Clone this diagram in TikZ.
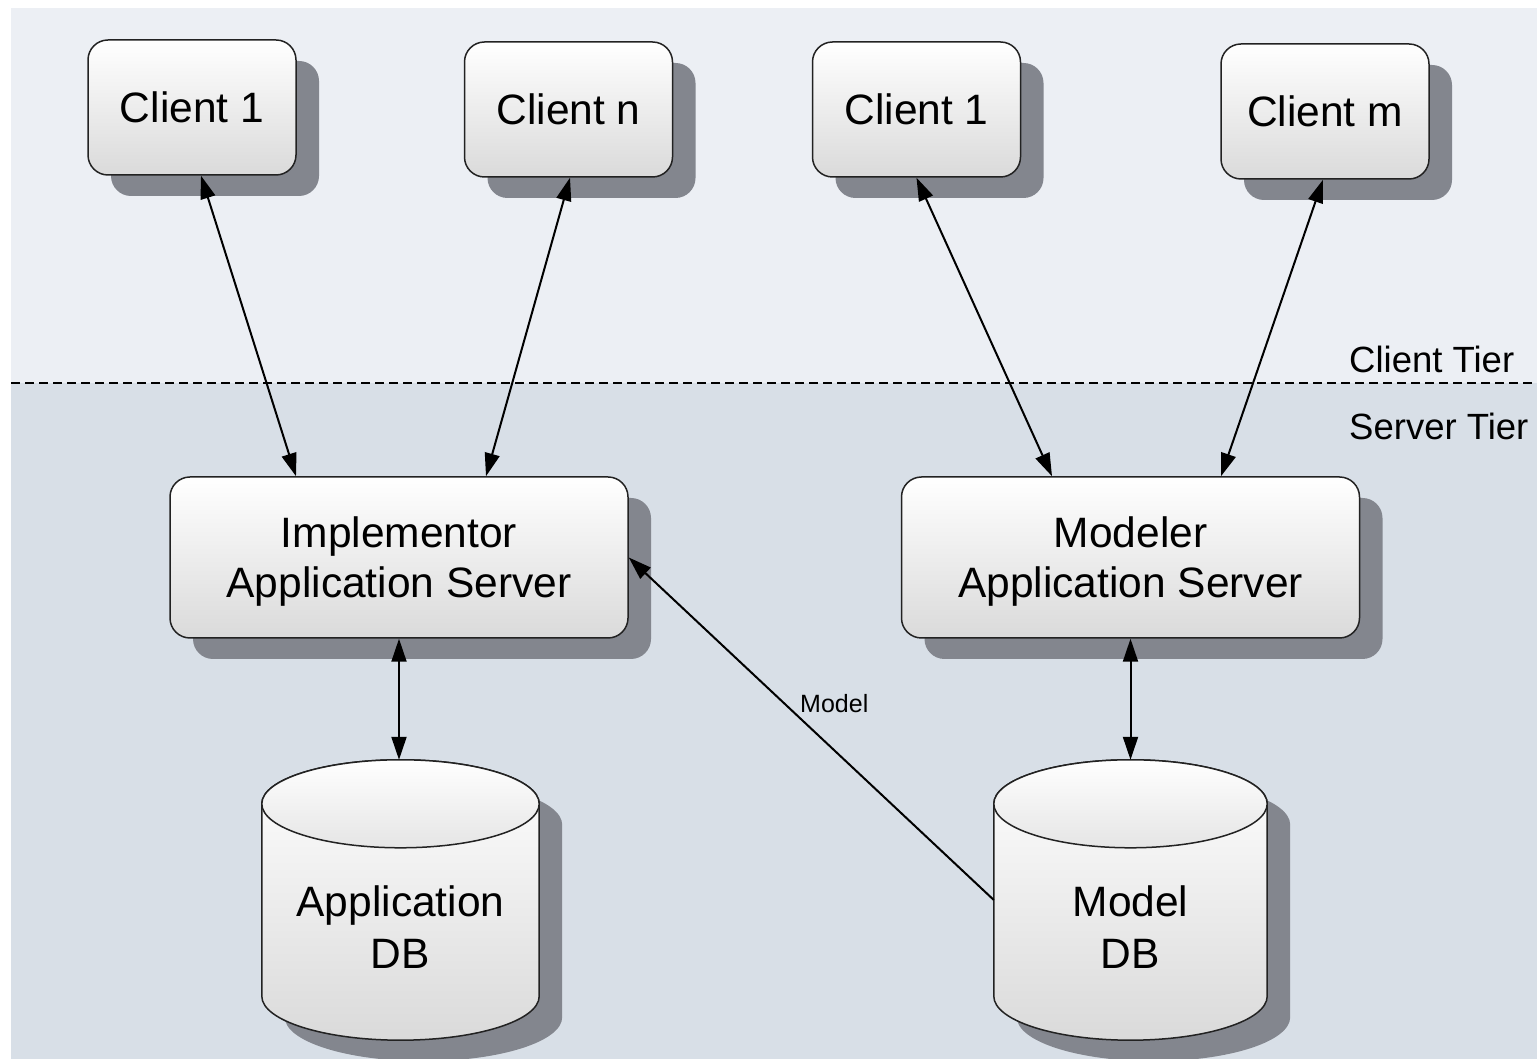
\documentclass[tikz,border=0pt]{standalone}
\usepackage{fontspec}
\setmainfont{Liberation Sans}
\usetikzlibrary{arrows.meta,calc,shadows}
\definecolor{clienttier}{RGB}{236,239,244}
\definecolor{servertier}{RGB}{216,223,231}
\definecolor{shadowgrey}{RGB}{131,134,142}
\definecolor{boxgrey}{RGB}{218,218,218}
\definecolor{boxline}{RGB}{34,34,34}

\tikzset{
  box/.style={draw=boxline, line width=1.5pt, rounded corners=20pt,
    top color=white, bottom color=boxgrey,
    drop shadow={shadow xshift=23pt, shadow yshift=-21pt, fill=shadowgrey, opacity=1},
    font=\fontsize{42.5}{50}\selectfont, align=center, inner sep=0pt},
  client/.style={box, minimum width=208pt, minimum height=135pt},
  server/.style={box, minimum width=458pt, minimum height=161pt, text depth=0pt},
  dbbox/.style={inner sep=0pt, minimum width=277pt, minimum height=280pt},
  dbtext/.style={font=\fontsize{42.5}{52}\selectfont, align=center, inner sep=0pt},
  tierlabel/.style={font=\fontsize{36.5}{42}\selectfont, inner sep=0pt, anchor=base west},
  link/.style={line width=2pt, {Triangle[length=23pt,width=15pt]}-{Triangle[length=23pt,width=15pt]}},
  onelink/.style={line width=2pt, -{Triangle[length=23pt,width=15pt]}},
}

% database drum drawn round an empty node
\newcommand{\dbcyl}[1]{%
  \fill[shadowgrey] let \p1=(#1.north west), \p2=(#1.south east) in
    ({\x1+23pt},{\y1-65pt}) -- ({\x1+23pt},{\y2+23pt})
    arc[start angle=180, end angle=360, x radius={(\x2-\x1)/2}, y radius=44pt]
    -- ({\x2+23pt},{\y1-65pt})
    arc[start angle=0, end angle=180, x radius={(\x2-\x1)/2}, y radius=44pt] -- cycle;
  \path[draw=boxline, line width=1.5pt, top color=white, bottom color=boxgrey]
    let \p1=(#1.north west), \p2=(#1.south east) in
    ({\x1},{\y1-44pt}) -- ({\x1},{\y2+44pt})
    arc[start angle=180, end angle=360, x radius={(\x2-\x1)/2}, y radius=44pt]
    -- ({\x2},{\y1-44pt})
    arc[start angle=0, end angle=180, x radius={(\x2-\x1)/2}, y radius=44pt] -- cycle;
  \path[draw=boxline, line width=1.5pt, top color=white, bottom color=boxgrey!70]
    let \p1=(#1.north west), \p2=(#1.south east) in
    ({(\x1+\x2)/2},{\y1-44pt}) ellipse[x radius={(\x2-\x1)/2}, y radius=44pt];
}

\begin{document}
\begin{tikzpicture}[x=1pt,y=1pt]
  \useasboundingbox (0,0) rectangle (1537,1059);
  % tiers
  \fill[clienttier] (11,676) rectangle (1537,1051);
  \fill[servertier] (11,0) rectangle (1537,676);
  \draw[line width=1.5pt, dash pattern=on 9pt off 5pt] (11,676) -- (1537,676);
  \node[tierlabel] (ctier) at (1349,686) {Client Tier};
  \node[tierlabel] (stier) at (1349,619) {Server Tier};

  % clients
  \node[client] (ca1) at (192,951.5) {Client 1};
  \node[client] (can) at (568.5,949.5) {Client n};
  \node[client] (cb1) at (916.5,949.5) {Client 1};
  \node[client] (cbm) at (1325,947.5) {Client m};

  % servers
  \node[server] (impl) at (399,501.5) {Implementor\\Application Server};
  \node[server] (modl) at (1130.5,501.5) {Modeler\\Application Server};

  % databases
  \node[dbbox] (adb) at (400.5,159) {};
  \node[dbbox, minimum width=273pt] (mdb) at (1130.5,159) {};
  \dbcyl{adb}
  \dbcyl{mdb}
  \node[dbtext] (adbl) at ([yshift=-27pt]adb.center) {Application\\DB};
  \node[dbtext] (mdbl) at ([yshift=-27pt]mdb.center) {Model\\DB};

  % links
  \draw[link] ([xshift=9pt]ca1.south) -- ([xshift=-103pt]impl.north);
  \draw[link] ([xshift=1.5pt]can.south) -- ([xshift=87pt]impl.north);
  \draw[link] (cb1.south) -- ([xshift=-78.5pt]modl.north);
  \draw[link] ([xshift=-2pt]cbm.south) -- ([xshift=90.5pt]modl.north);
  \draw[link] (impl.south) -- (impl.south |- adb.north);
  \draw[link] (modl.south) -- (mdb.north);
  \draw[onelink] (mdb.west) -- node[pos=0.5, xshift=23pt, yshift=25pt,
    font=\fontsize{25}{30}\selectfont, inner sep=0pt] (mlab) {Model} (impl.east);
\end{tikzpicture}
\end{document}
